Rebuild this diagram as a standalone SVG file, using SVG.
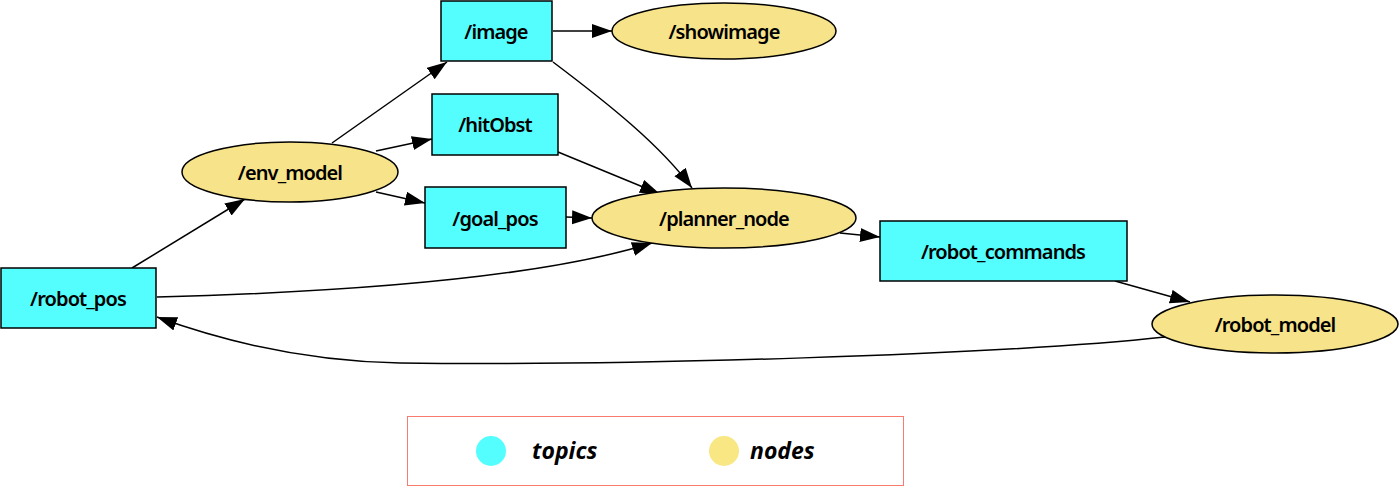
<svg xmlns="http://www.w3.org/2000/svg" width="1400" height="487" viewBox="0 0 1400 487">
<style>
.topic{fill:#55fefe;stroke:#000;stroke-width:1.5}
.node{fill:#f7e38a;stroke:#000;stroke-width:1.5}
.lbl{font-family:"Noto Sans","Open Sans",sans-serif;font-size:20px;font-weight:600;fill:#000;text-anchor:middle;dominant-baseline:central;letter-spacing:-0.9px}
.edge{fill:none;stroke:#000;stroke-width:1.5;marker-end:url(#arr)}
.leg{font-family:"Open Sans","Noto Sans",sans-serif;font-size:23px;font-weight:bold;font-style:italic;fill:#000;dominant-baseline:central}
</style>
<defs>
<marker id="arr" markerUnits="userSpaceOnUse" markerWidth="22" markerHeight="16" refX="20" refY="7" orient="auto">
<path d="M0,0 L20,7 L0,14 Z" fill="#000"/>
</marker>
</defs>
<rect width="1400" height="487" fill="#fff"/>
<g id="connectors">
<path class="edge" d="M132,268 L245,199"/>
<path class="edge" d="M332,143 L447,62"/>
<path class="edge" d="M376,151 L432,139"/>
<path class="edge" d="M376,192 L425,203"/>
<path class="edge" d="M553,31 L612,31"/>
<path class="edge" d="M553,62 C610,105 660,145 692,188"/>
<path class="edge" d="M558,152 L660,194"/>
<path class="edge" d="M566,217 L592,218"/>
<path class="edge" d="M157,297 C350,292 540,278 652,243"/>
<path class="edge" d="M840,233 L880,237"/>
<path class="edge" d="M1115,281 L1190,302"/>
<path class="edge" d="M1165,337 C1000,355 620,366 400,363 C300,361 220,340 157,317"/>
</g>
<g id="n-image"><rect class="topic" x="441" y="1" width="111" height="60"/><text class="lbl" x="496" y="31">/image</text></g>
<g id="n-showimage"><ellipse class="node" cx="724" cy="31" rx="112" ry="28"/><text class="lbl" x="724" y="31">/showimage</text></g>
<g id="n-hitObst"><rect class="topic" x="432" y="94" width="126" height="61"/><text class="lbl" x="495" y="124">/hitObst</text></g>
<g id="n-env_model"><ellipse class="node" cx="290" cy="172" rx="108" ry="30"/><text class="lbl" x="290" y="172">/env_model</text></g>
<g id="n-goal_pos"><rect class="topic" x="425" y="187" width="141" height="61"/><text class="lbl" x="495" y="218">/goal_pos</text></g>
<g id="n-planner_node"><ellipse class="node" cx="724" cy="218" rx="132" ry="30"/><text class="lbl" x="724" y="218">/planner_node</text></g>
<g id="n-robot_commands"><rect class="topic" x="880" y="221" width="247" height="60"/><text class="lbl" x="1003" y="251">/robot_commands</text></g>
<g id="n-robot_model"><ellipse class="node" cx="1275" cy="324" rx="123" ry="29"/><text class="lbl" x="1275" y="324">/robot_model</text></g>
<g id="n-robot_pos"><rect class="topic" x="1" y="268" width="155" height="60"/><text class="lbl" x="78" y="298">/robot_pos</text></g>
<g id="legend">
<rect x="407.5" y="416.5" width="496" height="69" fill="#fff" stroke="#f87b6f" stroke-width="1"/>
<circle cx="491" cy="451" r="15" fill="#55fefe"/>
<text class="leg" x="532" y="450">topics</text>
<circle cx="724" cy="451" r="15" fill="#f9e784"/>
<text class="leg" x="750" y="450">nodes</text>
</g>
</svg>
